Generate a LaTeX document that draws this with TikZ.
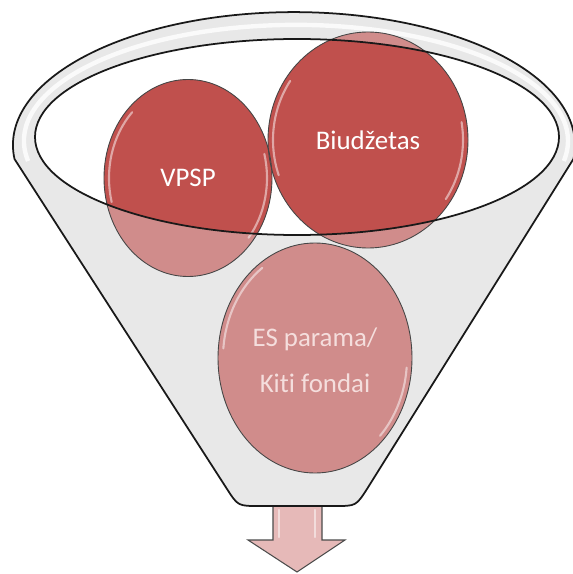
\documentclass[tikz,border=0pt]{standalone}
\usepackage{fontspec}
\setmainfont{Carlito}[Ligatures=NoCommon]
\usetikzlibrary{shapes.geometric, positioning, calc}
\definecolor{FunnelRed}{RGB}{192,80,77}
\definecolor{FunnelGray}{RGB}{232,232,232}
\definecolor{ArrowPink}{RGB}{230,185,184}
\definecolor{RimLine}{RGB}{25,25,25}
\definecolor{SoftText}{RGB}{244,222,221}

\begin{document}
\begin{tikzpicture}[x=0.02cm, y=-0.02cm,
    ball/.style={ellipse, inner sep=0pt, align=center, text=white,
                 font=\fontsize{15.3}{26}\selectfont},
    gloss/.style={white, opacity=.5, line width=1.2pt, line cap=round},
    ballline/.style={gray!55!black, line width=0.5pt}]
  \useasboundingbox (0,0) rectangle (573,574);

  % outflow arrow
  \draw[gray!60!black, fill=ArrowPink, line width=0.6pt]
    (273,504) -- (322,504) -- (322,540) -- (345,540) -- (297,572)
    -- (248,540) -- (273,540) -- cycle;
  \draw[gloss] (279,510) -- (279,537);
  \draw[gloss] (315,510) -- (315,537);

  % funnel body and rim
  \draw[RimLine, fill=FunnelGray, line width=1pt]
    (14.5,159) arc[start angle=174, end angle=366, x radius=281, y radius=133]
    -- (367,489) .. controls (356,506) .. (335,506) -- (259,506)
    .. controls (238,506) .. (227,489) -- cycle;
  \draw[white, opacity=.8, line width=2.5pt]
    (28.1,161) arc[start angle=170, end angle=370, x radius=272, y radius=116];
  \fill[white] (297,137) ellipse[x radius=262, y radius=98];

  % text nodes
  \node[ball] (vpsp) at (188,178) {VPSP};
  \node[ball] (biud) at (368,140) {Biudžetas};
  \node[ball, text=SoftText] (es) at (315,360) {ES parama/\\Kiti fondai};

  % balls, light where they sit in the funnel
  \fill[FunnelRed, opacity=.6] (vpsp.center) ellipse[x radius=84, y radius=98.5];
  \fill[FunnelRed, opacity=.6] (biud.center) ellipse[x radius=100, y radius=108];
  \fill[FunnelRed, opacity=.6] (315,358) ellipse[x radius=97, y radius=115];
  \begin{scope}
    \clip (297,137) ellipse[x radius=262, y radius=98];
    \fill[FunnelRed] (vpsp.center) ellipse[x radius=84, y radius=98.5];
    \fill[FunnelRed] (biud.center) ellipse[x radius=100, y radius=108];
  \end{scope}
  \draw[ballline] (vpsp.center) ellipse[x radius=84, y radius=98.5];
  \draw[ballline] (biud.center) ellipse[x radius=100, y radius=108];
  \draw[ballline] (315,358) ellipse[x radius=97, y radius=115];

  % gloss on the balls
  \draw[gloss] ($(vpsp.center)+(225:79 and 93)$) arc[start angle=225, end angle=165, x radius=79, y radius=93];
  \draw[gloss] ($(vpsp.center)+(345:79 and 93)$) arc[start angle=345, end angle=400, x radius=79, y radius=93];
  \draw[gloss] ($(biud.center)+(215:95 and 103)$) arc[start angle=215, end angle=160, x radius=95, y radius=103];
  \draw[gloss] ($(biud.center)+(350:95 and 103)$) arc[start angle=350, end angle=395, x radius=95, y radius=103];
  \draw[gloss] ($(315,358)+(235:92 and 110)$) arc[start angle=235, end angle=185, x radius=92, y radius=110];
  \draw[gloss] ($(315,358)+(5:92 and 110)$) arc[start angle=5, end angle=45, x radius=92, y radius=110];

  \draw[RimLine, line width=1pt] (297,137) ellipse[x radius=262, y radius=98];

  % labels on top
  \node[ball] at (vpsp) {VPSP};
  \node[ball] at (biud) {Biudžetas};
  \node[ball, text=SoftText] at (es) {ES parama/\\Kiti fondai};
\end{tikzpicture}
\end{document}
